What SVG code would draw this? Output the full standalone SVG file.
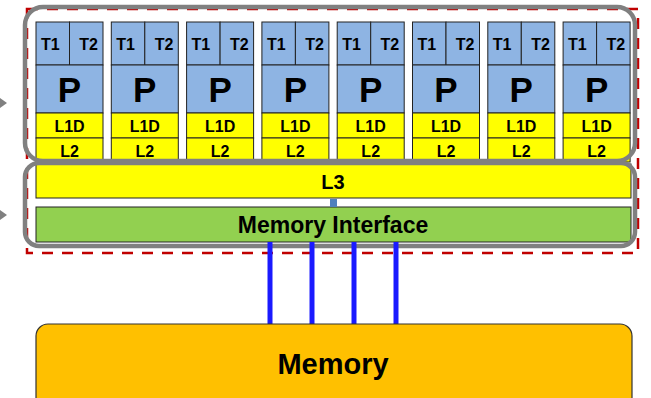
<svg xmlns="http://www.w3.org/2000/svg" width="651" height="398" viewBox="0 0 651 398">
<style>
text{font-family:"Liberation Sans",Arial,sans-serif;font-weight:bold;fill:#000}
.cell{stroke:#222;stroke-width:1}
.blue{fill:#8eb4e3}
.yel{fill:#ffff00}
.t{font-size:16px}
.p{font-size:35px;text-anchor:middle}
.c{font-size:16px;text-anchor:middle}
.bus{stroke:#1a1aff;stroke-width:5}
.frame{fill:none;stroke:#808080;stroke-width:4.5}
</style>
<defs>
<g id="core">
<rect class="cell blue" x="0" y="22" width="33.5" height="43"/>
<rect class="cell blue" x="33.5" y="22" width="33.5" height="43"/>
<rect class="cell blue" x="0" y="65" width="67" height="48"/>
<rect class="cell yel" x="0" y="113" width="67" height="25"/>
<rect class="cell yel" x="0" y="138" width="67" height="24"/>
<text class="t" x="5" y="50">T1</text>
<text class="t" x="62" y="50" text-anchor="end">T2</text>
<text class="p" x="33.5" y="102">P</text>
<text class="c" x="33.5" y="132">L1D</text>
<text class="c" x="33.5" y="157">L2</text>
</g>
</defs>
<rect x="27" y="9" width="611" height="244" fill="none" stroke="#c00000" stroke-width="2.5" stroke-dasharray="11 9"/>
<g id="cores">
<use id="core1" href="#core" x="36"/>
<use id="core2" href="#core" x="111.3"/>
<use id="core3" href="#core" x="186.6"/>
<use id="core4" href="#core" x="261.9"/>
<use id="core5" href="#core" x="337.2"/>
<use id="core6" href="#core" x="412.5"/>
<use id="core7" href="#core" x="487.8"/>
<use id="core8" href="#core" x="563.1"/>
</g>
<g id="l3">
<rect class="cell yel" x="36" y="164" width="595" height="34"/>
<text x="333" y="189" font-size="20" text-anchor="middle">L3</text>
</g>
<g id="memif">
<rect class="cell" x="36" y="207" width="595" height="35" fill="#92d050"/>
<text x="333" y="233" font-size="23" text-anchor="middle">Memory Interface</text>
</g>
<g id="frames">
<rect class="frame" x="25" y="7" width="610" height="154" rx="18"/>
<rect class="frame" x="25" y="163" width="610" height="83" rx="14"/>
</g>
<g id="connectors">
<rect x="330" y="199" width="7" height="8" fill="#4f81bd"/>
<line class="bus" x1="270" y1="242" x2="270" y2="325"/>
<line class="bus" x1="312" y1="242" x2="312" y2="325"/>
<line class="bus" x1="354" y1="242" x2="354" y2="325"/>
<line class="bus" x1="396" y1="242" x2="396" y2="325"/>
<polygon points="0,98 7,103 0,108" fill="#808080"/>
<polygon points="0,210 7,215 0,220" fill="#808080"/>
</g>
<g id="memory">
<rect x="36" y="324" width="596" height="90" rx="12" fill="#ffc000" stroke="#333" stroke-width="1.2"/>
<text x="333" y="374" font-size="29" text-anchor="middle">Memory</text>
</g>
</svg>
